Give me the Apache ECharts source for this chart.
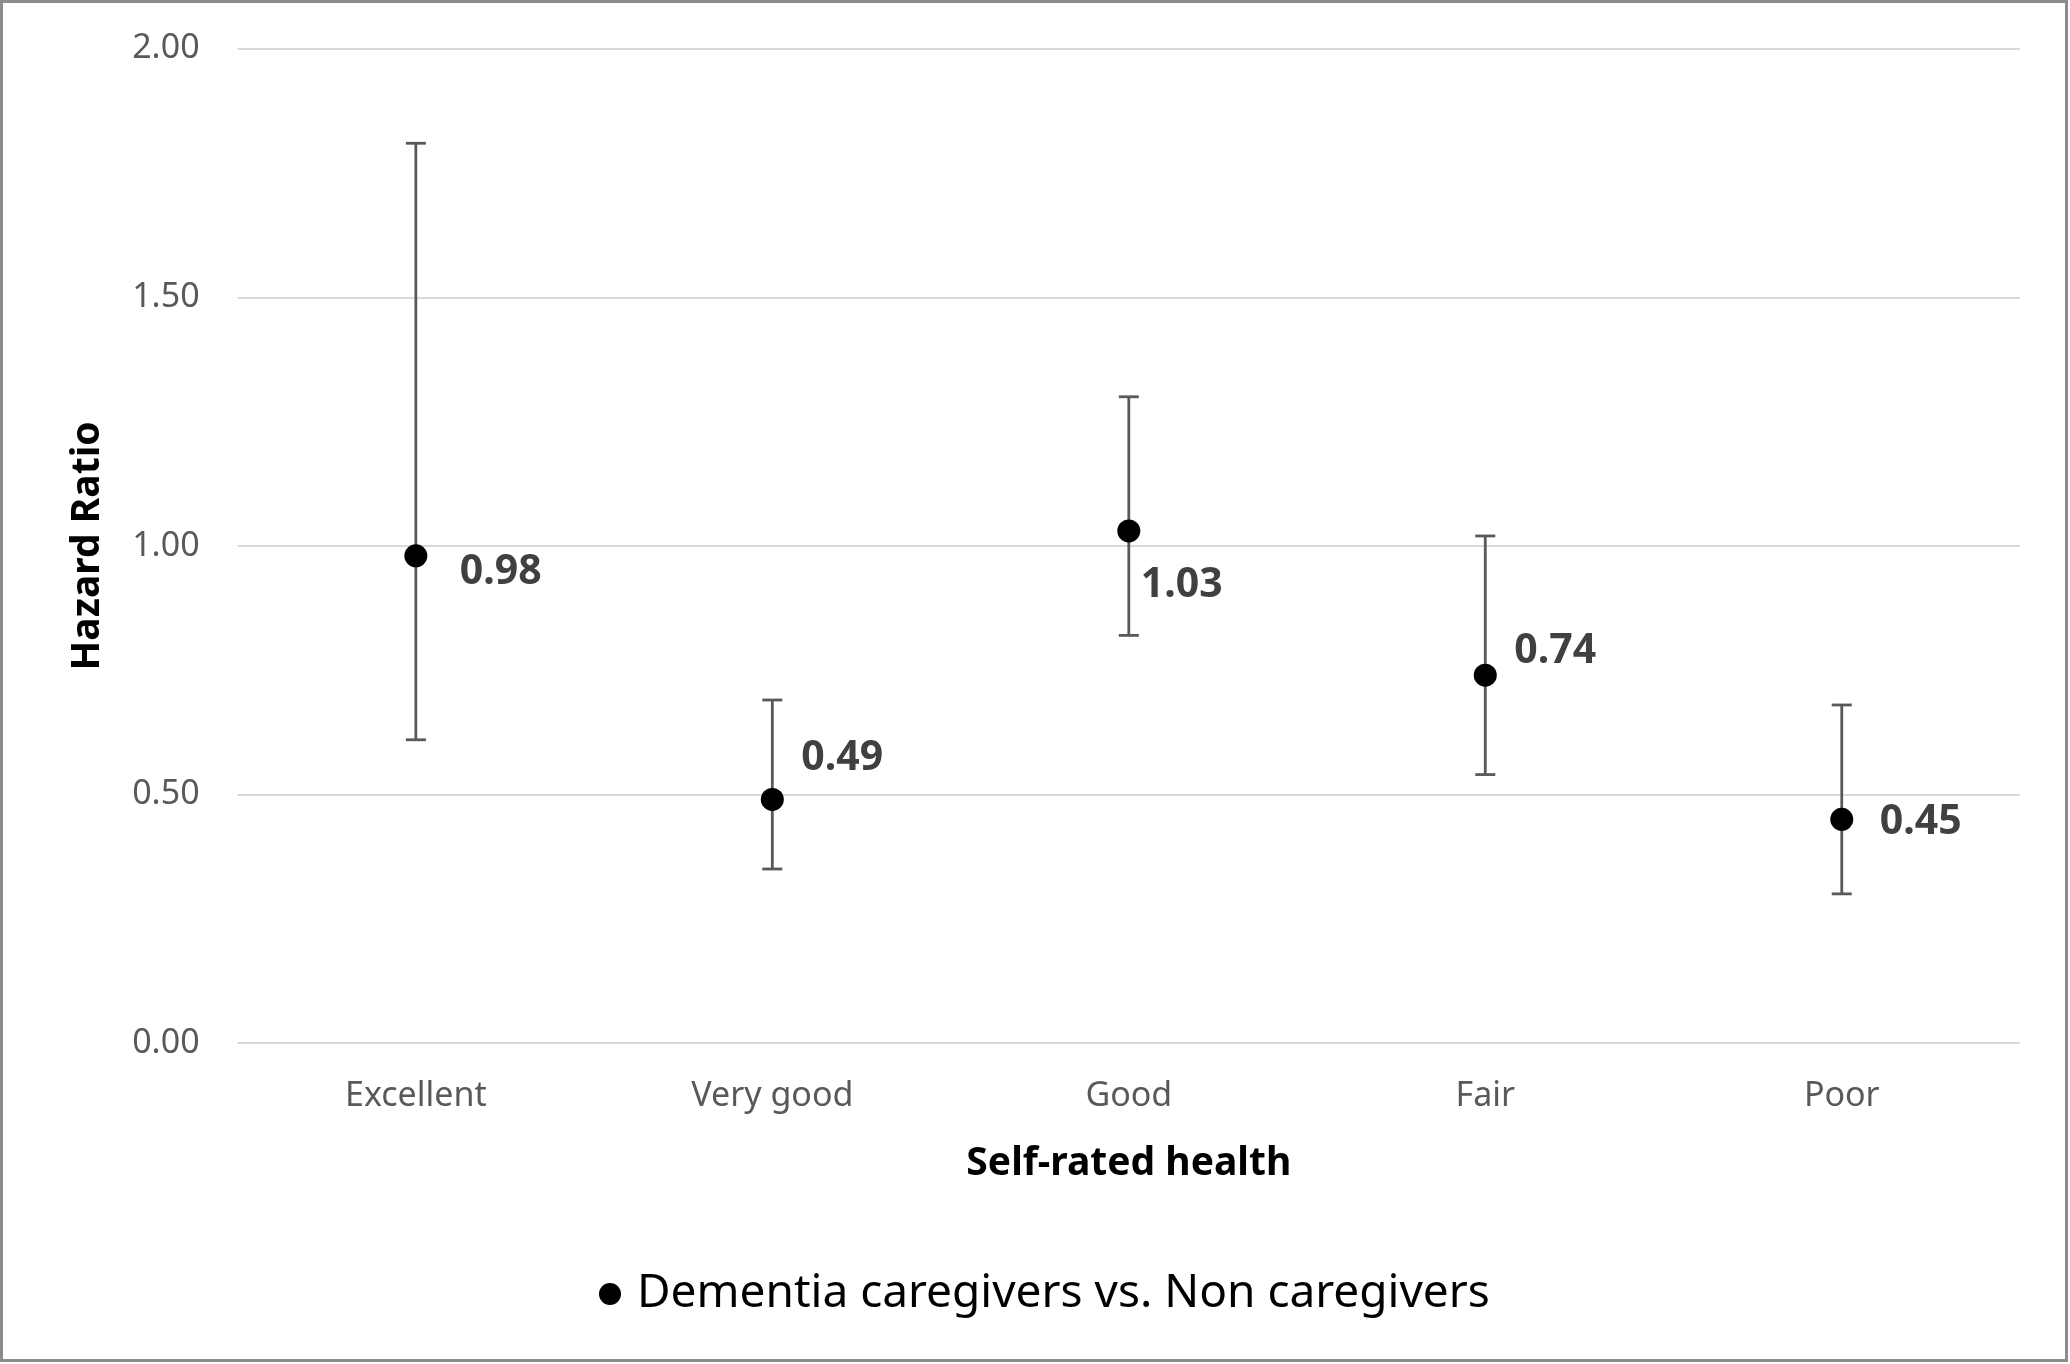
<!DOCTYPE html>
<html>
<head>
<meta charset="utf-8">
<script src="https://cdn.jsdelivr.net/npm/echarts@6/dist/echarts.min.js"></script>
<style>
html,body{margin:0;padding:0;background:#fff;}
#chart{width:2070px;height:1364px;}
</style>
</head>
<body>
<div id="chart"></div>
<script>
// ---- data ----
const categories = ['Excellent', 'Very good', 'Good', 'Fair', 'Poor'];
const hazardRatio = [0.98, 0.49, 1.03, 0.74, 0.45];
const ciLower = [0.61, 0.35, 0.82, 0.54, 0.30];
const ciUpper = [1.81, 0.69, 1.30, 1.02, 0.68];
const seriesName = 'Dementia caregivers vs. Non caregivers';
const yAxisTitle = 'Hazard Ratio';
const xAxisTitle = 'Self-rated health';

// ---- label placement style (pixel offsets from each point) ----
const labelOffsets = [[44, 16], [29, -41], [12, 54], [29, -24], [38, 3]];

const FONT = '"Noto Sans", sans-serif';
const chart = echarts.init(document.getElementById('chart'));

const errData = categories.map((c, i) => [i, ciLower[i], ciUpper[i]]);
const pointData = categories.map((c, i) => ({
  value: [i, hazardRatio[i]],
  label: { offset: labelOffsets[i] }
}));

chart.setOption({
  backgroundColor: '#ffffff',
  animation: false,
  graphic: [{
    type: 'rect',
    shape: { x: 1.5, y: 1.5, width: 2065, height: 1359 },
    style: { fill: 'none', stroke: '#8c8c8c', lineWidth: 3 },
    silent: true
  }],
  grid: { left: 237.6, right: 50, top: 48.8, bottom: 321, containLabel: false },
  legend: {
    data: [{ name: seriesName, icon: 'circle', itemStyle: { color: '#000000', opacity: 1 } }],
    left: 594,
    top: 1266,
    itemWidth: 44,
    itemHeight: 22,
    textStyle: { fontFamily: FONT, fontSize: 46, color: '#000000' }
  },
  xAxis: {
    type: 'category',
    data: categories,
    name: xAxisTitle,
    nameLocation: 'middle',
    nameGap: 121,
    nameTextStyle: { fontFamily: FONT, fontSize: 39, fontWeight: 'bold', color: '#000000', verticalAlign: 'middle' },
    axisLine: { show: false },
    axisTick: { show: false },
    axisLabel: { margin: 36, fontFamily: FONT, fontSize: 34, color: '#595959' },
    splitLine: { show: false }
  },
  yAxis: {
    type: 'value',
    min: 0,
    max: 2,
    interval: 0.5,
    name: yAxisTitle,
    nameLocation: 'middle',
    nameGap: 150,
    nameRotate: 90,
    nameTextStyle: { fontFamily: FONT, fontSize: 39, fontWeight: 'bold', color: '#000000', verticalAlign: 'middle' },
    axisLine: { show: false },
    axisTick: { show: false },
    axisLabel: { margin: 38, fontFamily: FONT, fontSize: 34, color: '#595959', formatter: v => v.toFixed(2) },
    splitLine: { lineStyle: { color: '#d9d9d9', width: 2 } }
  },
  series: [
    {
      type: 'custom',
      name: 'CI',
      z: 2,
      data: errData,
      encode: { x: 0, y: [1, 2] },
      renderItem: function (params, api) {
        const x = api.value(0);
        const lo = api.coord([x, api.value(1)]);
        const hi = api.coord([x, api.value(2)]);
        const cap = 10;
        const st = { stroke: '#595959', lineWidth: 2.8 };
        return {
          type: 'group',
          children: [
            { type: 'line', shape: { x1: lo[0], y1: lo[1], x2: hi[0], y2: hi[1] }, style: st },
            { type: 'line', shape: { x1: hi[0] - cap, y1: hi[1], x2: hi[0] + cap, y2: hi[1] }, style: st },
            { type: 'line', shape: { x1: lo[0] - cap, y1: lo[1], x2: lo[0] + cap, y2: lo[1] }, style: st }
          ]
        };
      }
    },
    {
      type: 'scatter',
      name: seriesName,
      z: 3,
      symbol: 'circle',
      symbolSize: 23,
      itemStyle: { color: '#000000', opacity: 1 },
      data: pointData,
      label: {
        show: true,
        position: 'inside',
        align: 'left',
        verticalAlign: 'middle',
        fontFamily: FONT,
        fontSize: 41,
        fontWeight: 'bold',
        color: '#404040',
        formatter: p => p.value[1].toFixed(2)
      }
    }
  ]
});
</script>
</body>
</html>
